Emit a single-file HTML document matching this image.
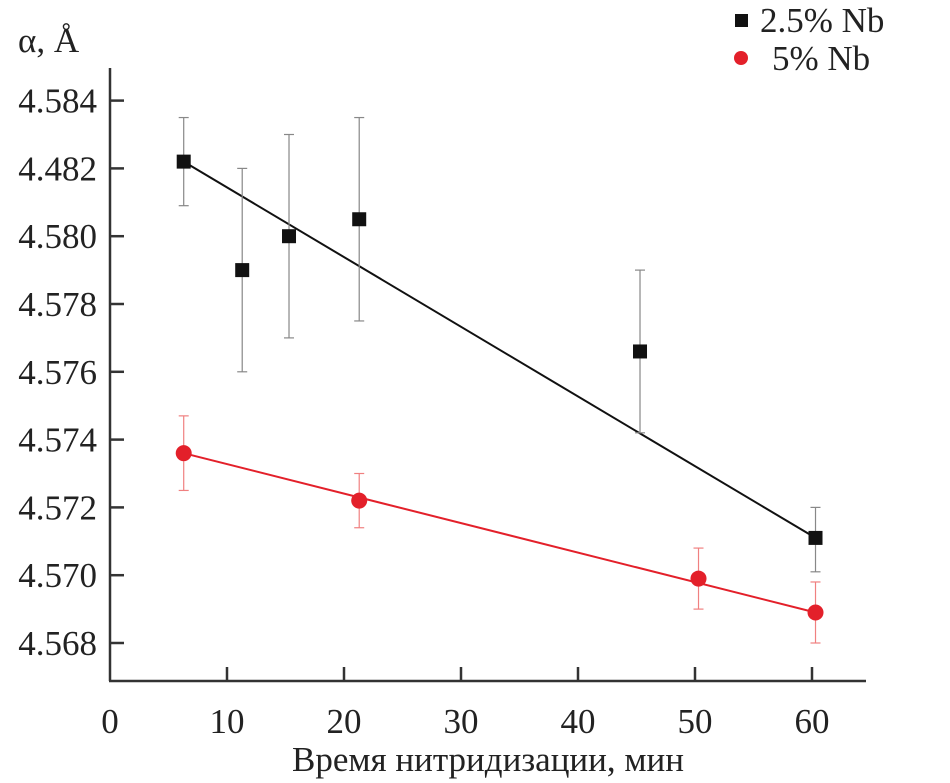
<!DOCTYPE html>
<html><head><meta charset="utf-8"><style>
body{margin:0;background:#fff;}
svg{display:block;font-family:"Liberation Serif",serif;}
</style></head><body>
<svg id="chart" width="950" height="783" viewBox="0 0 950 783"></svg>
<script>
const xTicks=[0,10,20,30,40,50,60];
const yTicks=[4.568,4.570,4.572,4.574,4.576,4.578,4.580,4.582,4.584];
const yTickLabels=["4.568","4.570","4.572","4.574","4.576","4.578","4.580","4.482","4.584"];
const blackX=[6.3,11.3,15.3,21.3,45.3,60.3];
const blackY=[4.5822,4.5790,4.5800,4.5805,4.5766,4.5711];
const blackLo=[4.5809,4.5760,4.5770,4.5775,4.5742,4.5701];
const blackHi=[4.5835,4.5820,4.5830,4.5835,4.5790,4.5720];
const blackFitX=[6.3,60.3];
const blackFitY=[4.5822,4.5711];
const redX=[6.3,21.3,50.3,60.3];
const redY=[4.5736,4.5722,4.5699,4.5689];
const redLo=[4.5725,4.5714,4.5690,4.5680];
const redHi=[4.5747,4.5730,4.5708,4.5698];
const redFitX=[6.3,60.3];
const redFitY=[4.5736,4.5689];

const X0=110,XS=11.7,Y0=643,YS=33900;
const sx=v=>X0+v*XS, sy=v=>Y0-(v-4.568)*YS;
const svg=document.getElementById('chart');
const NS='http://www.w3.org/2000/svg';
function mk(tag,attrs,parent){const e=document.createElementNS(NS,tag);for(const k in attrs)e.setAttribute(k,attrs[k]);(parent||svg).appendChild(e);return e;}

let g=mk('g',{});


mk('line',{x1:X0,y1:68,x2:X0,y2:681,stroke:'#333','stroke-width':2.5},g);
mk('line',{x1:X0-1,y1:681,x2:866,y2:681,stroke:'#333','stroke-width':2.5},g);
xTicks.forEach(t=>{
  if(t>0) mk('line',{x1:sx(t),y1:681,x2:sx(t),y2:667,stroke:'#333','stroke-width':2.5},g);
  const tx=mk('text',{x:sx(t),y:733,'text-anchor':'middle','font-size':35,fill:'#222'},g);
  tx.textContent=t;
  
  
});
yTicks.forEach((t,i)=>{
  mk('line',{x1:X0,y1:sy(t),x2:X0+14,y2:sy(t),stroke:'#333','stroke-width':2.5},g);
  const tx=mk('text',{x:97,y:sy(t)+12,'text-anchor':'end','font-size':35,fill:'#222'},g);
  tx.textContent=yTickLabels[i];
  
  
});
let t=mk('text',{x:488,y:771,'text-anchor':'middle','font-size':35,fill:'#222'});
t.textContent='Время нитридизации, мин';


t=mk('text',{x:18,y:52,'font-size':35,fill:'#222'});
t.textContent='α, Å';



function series(xs,ys,lo,hi,fx,fy,color,errColor,shape,name){
  const sg=mk('g',{});
  
  
  mk('line',{x1:sx(fx[0]),y1:sy(fy[0]),x2:sx(fx[1]),y2:sy(fy[1]),stroke:color,'stroke-width':2},sg);
  xs.forEach((x,i)=>{
    const cx=sx(x);
    mk('line',{x1:cx,y1:sy(lo[i]),x2:cx,y2:sy(hi[i]),stroke:errColor,'stroke-width':1.2},sg);
    mk('line',{x1:cx-5,y1:sy(lo[i]),x2:cx+5,y2:sy(lo[i]),stroke:errColor,'stroke-width':1.2},sg);
    mk('line',{x1:cx-5,y1:sy(hi[i]),x2:cx+5,y2:sy(hi[i]),stroke:errColor,'stroke-width':1.2},sg);
    let m;
    if(shape==='sq') m=mk('rect',{x:cx-7,y:sy(ys[i])-7,width:14,height:14,fill:color},sg);
    else m=mk('circle',{cx:cx,cy:sy(ys[i]),r:8,fill:color},sg);
    
    
  });
}
series(blackX,blackY,blackLo,blackHi,blackFitX,blackFitY,'#111','#888','sq','series-2-5-nb');
series(redX,redY,redLo,redHi,redFitX,redFitY,'#e3202a','#f08080','ci','series-5-nb');

g=mk('g',{});


mk('rect',{x:735,y:14,width:13,height:13,fill:'#111'},g);
t=mk('text',{x:760,y:32,'font-size':35,fill:'#222'},g);t.textContent='2.5% Nb';


mk('circle',{cx:741,cy:58,r:7,fill:'#e3202a'},g);
t=mk('text',{x:772,y:70,'font-size':35,fill:'#222'},g);t.textContent='5% Nb';


</script>
</body></html>
